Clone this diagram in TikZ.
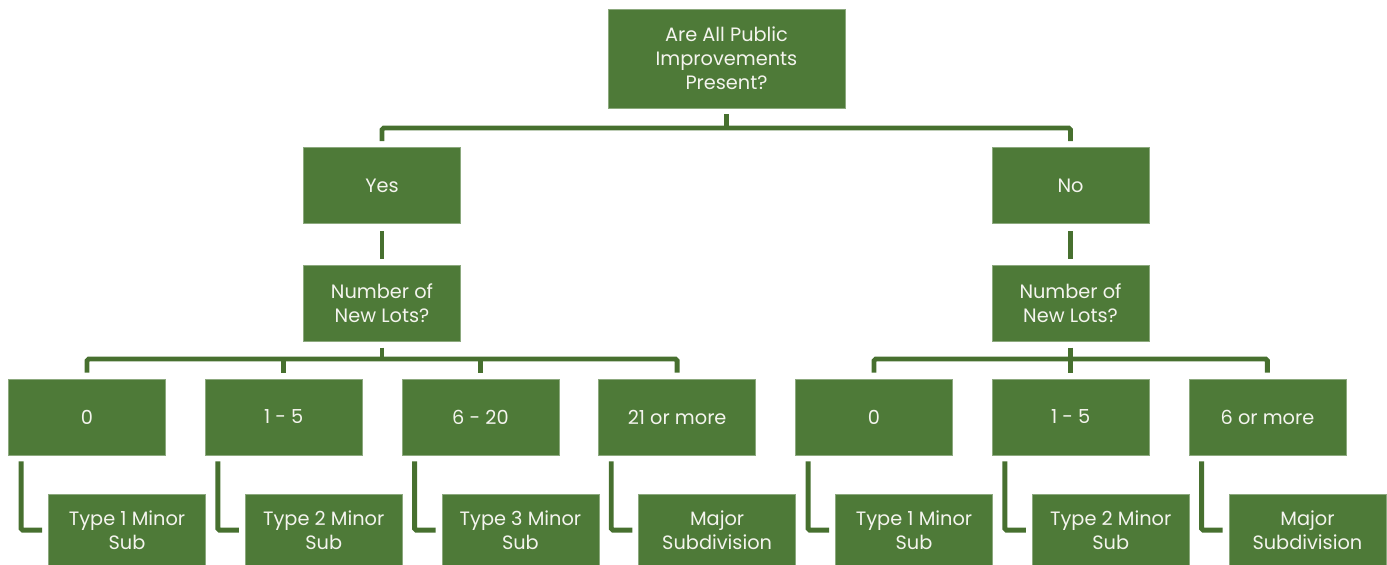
\documentclass[tikz,border=0pt]{standalone}
\usepackage{fontspec}
\newfontfamily\gothic{Poppins}
\usetikzlibrary{positioning,calc}
\definecolor{leafgreen}{HTML}{4E7A38}
\definecolor{linkgreen}{HTML}{47702F}
\definecolor{paper}{HTML}{F4F4EE}

\begin{document}
\begin{tikzpicture}[
  font=\gothic\fontsize{11}{13.6}\selectfont,
  box/.style={draw=leafgreen!65!white,line width=0.4pt,fill=leafgreen,text=paper,align=center,inner sep=2pt,minimum width=3.14cm,minimum height=1.52cm},
  head/.style={box,minimum width=4.74cm,minimum height=1.98cm},
  leaf/.style={box,minimum height=1.42cm},
  link/.style={draw=linkgreen,line width=2.8pt,rounded corners=1pt},
  node distance=7.8mm and 7.8mm,
]
\useasboundingbox (0,0) rectangle (27.74,-11.3);
% ---- question and yes / no ----
\node[head] (top) at (14.53,-1.17) {Are All Public\\Improvements\\Present?};
\node[box] (yes) at (7.64,-3.71) {Yes};
\node[box] (no) at (21.41,-3.71) {No};
\node[box,below=8.2mm of yes] (lotsL) {Number of\\New Lots?};
\node[box,below=8.2mm of no] (lotsR) {Number of\\New Lots?};
% ---- lot counts ----
\node[box] (l0) at (1.74,-8.34) {0};
\node[box,right=of l0] (l1) {1 - 5};
\node[box,right=of l1] (l2) {6 - 20};
\node[box,right=of l2] (l3) {21 or more};
\node[box] (r0) at (17.48,-8.34) {0};
\node[box,right=of r0] (r1) {1 - 5};
\node[box,right=of r1] (r2) {6 or more};
% ---- resulting subdivision types ----
\node[leaf,below=of l0,xshift=8mm] (tl0) {Type 1 Minor\\Sub};
\node[leaf,below=of l1,xshift=8mm] (tl1) {Type 2 Minor\\Sub};
\node[leaf,below=of l2,xshift=8mm] (tl2) {Type 3 Minor\\Sub};
\node[leaf,below=of l3,xshift=8mm] (tl3) {Major\\Subdivision};
\node[leaf,below=of r0,xshift=8mm] (tr0) {Type 1 Minor\\Sub};
\node[leaf,below=of r1,xshift=8mm] (tr1) {Type 2 Minor\\Sub};
\node[leaf,below=of r2,xshift=8mm] (tr2) {Major\\Subdivision};
% ---- connectors ----
\coordinate (bar0) at (0,-2.56);
\coordinate (barL) at (0,-7.18);
\coordinate (barR) at (0,-7.18);
\draw[link] ([yshift=-1.2mm]top.south) -- (top.south |- bar0);
\draw[link] ([yshift=1.2mm]yes.north) |- (bar0 -| top.south) -| ([yshift=1.2mm]no.north);
\draw[link] ([yshift=-1.5mm]yes.south) -- ([yshift=1.2mm]lotsL.north);
\draw[link] ([yshift=-1.5mm]no.south) -- ([yshift=1.2mm]lotsR.north);
\draw[link] ([yshift=-1.2mm]lotsL.south) -- (lotsL.south |- barL);
\draw[link] ([yshift=1.2mm]l0.north) |- (barL -| l3.north) -- ([yshift=1.2mm]l3.north);
\foreach \n in {l1,l2}
  \draw[link] (\n.north |- barL) -- ([yshift=1.2mm]\n.north);
\draw[link] ([yshift=-1.2mm]lotsR.south) -- (lotsR.south |- barR);
\draw[link] ([yshift=1.2mm]r0.north) |- (barR -| r2.north) -- ([yshift=1.2mm]r2.north);
\draw[link] (r1.north |- barR) -- ([yshift=1.2mm]r1.north);
% elbows down to the types
\foreach \a/\b in {l0/tl0,l1/tl1,l2/tl2,l3/tl3,r0/tr0,r1/tr1,r2/tr2}
  \draw[link] ([xshift=2.6mm,yshift=-1.2mm]\a.south west) |- ([xshift=-1.2mm]\b.west);
\end{tikzpicture}
\end{document}
